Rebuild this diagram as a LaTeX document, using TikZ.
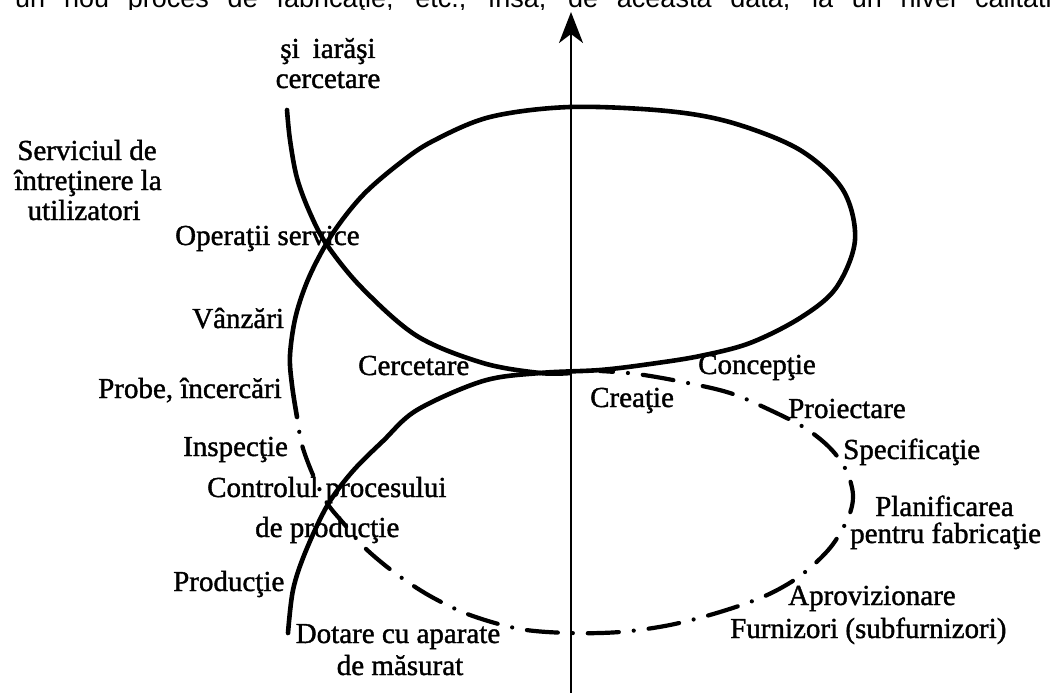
\documentclass[tikz,border=0pt]{standalone}
\usepackage{fontspec}
\setmainfont[FakeBold=1.3]{Liberation Serif}
\newfontfamily\topfont{Liberation Sans}
\usetikzlibrary{arrows.meta}
\begin{document}
\begin{tikzpicture}[x=1pt,y=-1pt,
  lbl/.style={inner sep=0pt,anchor=base west,font=\fontsize{29}{30}\selectfont},
  lblc/.style={inner sep=0pt,anchor=base,font=\fontsize{29}{30}\selectfont},
  solidcurve/.style={line width=4.6pt,line cap=round,line join=round},
  dashcurve/.style={line width=4.2pt,line cap=round,dash pattern=on 31pt off 15pt on 0pt off 15pt,dash phase=31pt},
  axisline/.style={line width=2.5pt,-{Stealth[length=31pt,width=24pt,inset=9pt]}}]
\useasboundingbox (0,0) rectangle (1052,693);
\clip (0,0) rectangle (1052,693);
\fill[white] (0,0) rectangle (1052,693);

% cut-off line of text at the top
\begin{scope}
\clip (0,0) rectangle (1052,9.5);
\node[inner sep=0pt,anchor=base west,font=\topfont\fontsize{27}{30}\selectfont] (topline) at (15,8)
  {\makebox[1050pt][s]{un nou proces de fabricaţie, etc., însă, de această dată, la un nivel calitativ}};
\end{scope}

% vertical axis
\coordinate (axbot) at (571,693);
\coordinate (axtop) at (571,12);
\draw[axisline] (axbot) -- (axtop);

% solid part of the spiral: lower-left strand, upper loop, down to Probe
\draw[solidcurve] plot[smooth,tension=0.55] coordinates {
 (288,633) (293,590) (305,553) (327,506) (352,472) (383,441) (417,410) (483,381)
 (540,373) (600,370) (650,364) (700,356) (750,343) (800,318) (836,288) (855,240)
 (843,190) (800,150) (733,123) (667,111) (570,107) (490,117) (433,141) (400,163)
 (363,195) (333,233) (310,275) (296,315) (290,355) (292,385) (297,417)};

% strand coming down from "si iarasi cercetare"
\draw[solidcurve] plot[smooth,tension=0.55] coordinates {
 (287,110) (290,140) (297,178) (310,213) (327,245) (362,288) (417,336) (483,363) (540,373) (570,373)};

% dash-dot part of the lower loop
\draw[dashcurve] plot[smooth,tension=0.55] coordinates {
 (297,417) (302,445) (313,475) (327,503) (345,525) (365,548) (395,573) (430,596)
 (470,615) (520,629) (570,633) (620,632) (670,625) (720,612) (765,596) (800,576)
 (830,548) (848,518) (853,495) (846,470) (830,448) (805,428) (770,410) (730,393)
 (683,382) (637,374) (600,371)};

% labels
\node[lblc] (sia1) at (328,58) {şi\hspace{0.45em}iarăşi};
\node[lblc] (sia2) at (328,88) {cercetare};
\node[lblc] (serv1) at (87,160) {Serviciul de};
\node[lblc] (serv2) at (88,190) {întreţinere la};
\node[lblc] (serv3) at (84,220) {utilizatori};
\node[lbl] (ops) at (175,245) {Operaţii service};
\node[lbl] (vanz) at (192,328) {Vânzări};
\node[lbl] (cerc) at (358,375) {Cercetare};
\node[lbl] (probe) at (98,398) {Probe, încercări};
\node[lbl] (insp) at (183,456) {Inspecţie};
\node[lbl] (ctrl1) at (207,497) {Controlul procesului};
\node[lbl] (ctrl2) at (255,537) {de producţie};
\node[lbl] (prod) at (173,591) {Producţie};
\node[lblc] (dot1) at (398,643) {Dotare cu aparate};
\node[lblc] (dot2) at (400,675) {de măsurat};
\node[lbl] (creat) at (590,407) {Creaţie};
\node[lbl] (conc) at (698,374) {Concepţie};
\node[lbl] (proi) at (788,418) {Proiectare};
\node[lbl] (spec) at (843,459) {Specificaţie};
\node[lbl] (plan1) at (875,516) {Planificarea};
\node[lbl] (plan2) at (850,543) {pentru fabricaţie};
\node[lbl] (apro) at (788,605) {Aprovizionare};
\node[lbl] (furn) at (730,638) {Furnizori (subfurnizori)};
\end{tikzpicture}
\end{document}
